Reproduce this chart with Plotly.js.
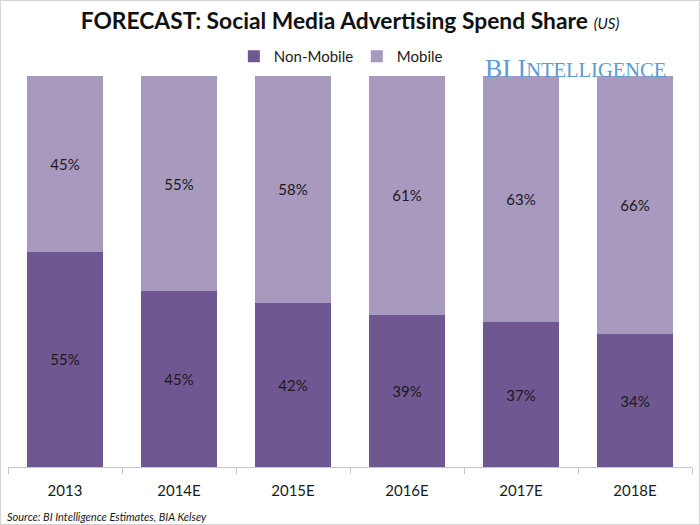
<!DOCTYPE html>
<html>
<head>
<meta charset="utf-8">
<script src="https://cdn.plot.ly/plotly-3.0.1.min.js"></script>
<style>
  html, body { margin: 0; padding: 0; background: #fff; }
  #chart { width: 698px; height: 523px; border: 1px solid #d4d4d4; }
</style>
</head>
<body>
<div id="chart"></div>
<script>
const categories = ["2013", "2014E", "2015E", "2016E", "2017E", "2018E"];
const nonMobile = [55, 45, 42, 39, 37, 34];
const mobile = [45, 55, 58, 61, 63, 66];

const FONT = "Lato, 'Open Sans', sans-serif";

const traces = [
  {
    type: "bar", name: "Non-Mobile", x: categories, y: nonMobile,
    marker: { color: "#6f5891" },
    texttemplate: "%{y}%", textposition: "inside", insidetextanchor: "middle",
    textfont: { family: FONT, size: 15, color: "#1a1a1a" },
    constraintext: "none", hoverinfo: "x+y+name"
  },
  {
    type: "bar", name: "Mobile", x: categories, y: mobile,
    marker: { color: "#a899bf" },
    texttemplate: "%{y}%", textposition: "inside", insidetextanchor: "middle",
    textfont: { family: FONT, size: 15, color: "#1a1a1a" },
    constraintext: "none", hoverinfo: "x+y+name"
  }
];

const layout = {
  width: 698, height: 523,
  margin: { l: 7, r: 7, t: 75, b: 57 },
  paper_bgcolor: "#ffffff", plot_bgcolor: "#ffffff",
  barmode: "stack", bargap: 0.33,
  font: { family: FONT, color: "#1a1a1a" },
  title: {
    text: "<b>FORECAST: Social Media Advertising Spend Share</b> <i><span style='font-size:15px'>(US)</span></i>",
    font: { family: FONT, size: 22.8, color: "#111" },
    x: 0.5, xanchor: "center", y: 0.962, yanchor: "middle"
  },
  showlegend: true,
  legend: {
    orientation: "h", x: 0.51, xanchor: "center", y: 1.05, yanchor: "middle",
    font: { family: FONT, size: 15, color: "#1a1a1a" },
    traceorder: "normal", itemwidth: 30, entrywidth: 78
  },
  xaxis: {
    type: "category", showgrid: false, zeroline: false,
    showline: true, linecolor: "#c8c8c8", linewidth: 1,
    ticks: "outside", tickson: "boundaries", ticklen: 6, tickcolor: "#c8c8c8",
    ticklabelstandoff: 10,
    tickfont: { family: FONT, size: 15, color: "#1a1a1a" }
  },
  yaxis: {
    range: [0, 100], visible: false, showgrid: false, zeroline: false, fixedrange: true
  },
  annotations: [
    {
      xref: "paper", yref: "paper", x: 0.965, y: 1.02, xanchor: "right", yanchor: "middle",
      text: "<span style='font-size:26px'>BI I</span><span style='font-size:20.5px'>NTELLIGENCE</span>",
      font: { family: "'Liberation Serif', 'DejaVu Serif', serif", color: "#5b9bd5", size: 20.5 },
      showarrow: false
    },
    {
      xref: "paper", yref: "paper", x: -0.005, y: -0.127, xanchor: "left", yanchor: "middle",
      text: "<i>Source: BI Intelligence Estimates, BIA Kelsey</i>",
      font: { family: FONT, size: 11, color: "#1a1a1a" },
      showarrow: false
    }
  ]
};

Plotly.newPlot("chart", traces, layout, { displayModeBar: false, staticPlot: true });
</script>
</body>
</html>
